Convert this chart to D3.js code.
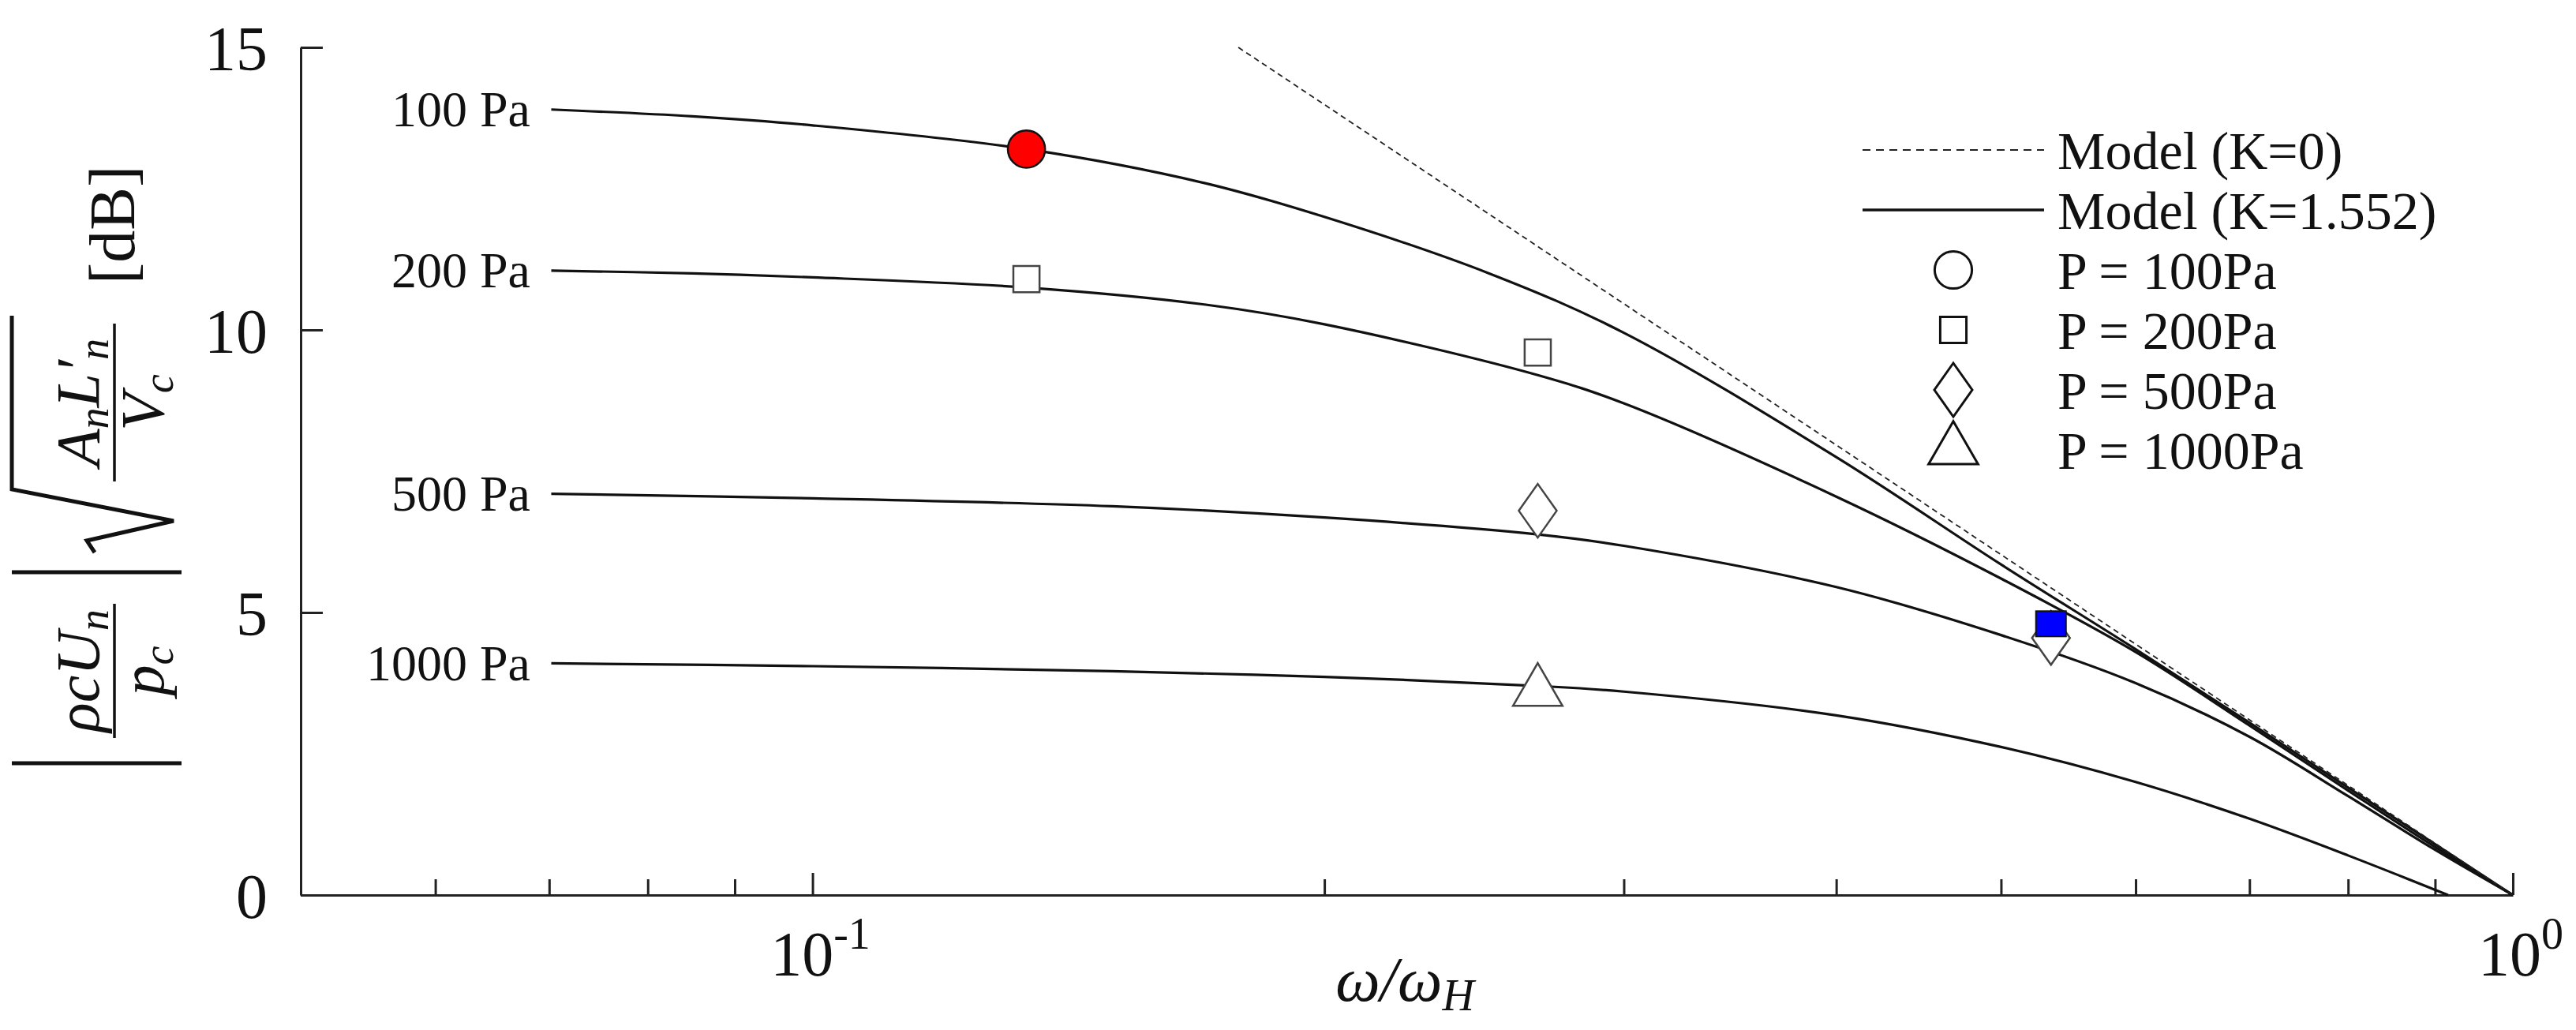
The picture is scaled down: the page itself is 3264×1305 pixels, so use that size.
<!DOCTYPE html>
<html><head><meta charset="utf-8">
<script src="https://cdn.jsdelivr.net/npm/d3@7/dist/d3.min.js"></script>
<style>body{margin:0;background:#fff}svg{display:block}text{font-family:"Liberation Serif","DejaVu Serif",serif;fill:#111}</style>
</head><body><svg id="chart" width="3264" height="1305"></svg>
<script>
// model curves
const xs100 = [0.0702, 0.085, 0.1, 0.1336, 0.17, 0.2, 0.25, 0.3, 0.4, 0.5, 0.6, 0.7, 0.8, 0.9, 1.0];
const ys100 = [13.9, 13.78, 13.62, 13.2, 12.6, 12.0, 11.0, 9.95, 7.75, 5.85, 4.35, 3.05, 1.9, 0.9, 0];
const xs200 = [0.0702, 0.085, 0.1, 0.1336, 0.17, 0.2, 0.267, 0.3, 0.4, 0.5, 0.6, 0.7, 0.8, 0.9, 1.0];
const ys200 = [11.05, 11.0, 10.93, 10.75, 10.45, 10.1, 9.2, 8.7, 7.05, 5.6, 4.3, 3.0, 1.85, 0.85, 0];
const xs500 = [0.0702, 0.1, 0.15, 0.2, 0.267, 0.3, 0.4, 0.5, 0.6, 0.7, 0.8, 0.9, 1.0];
const ys500 = [7.1, 7.02, 6.88, 6.68, 6.38, 6.18, 5.45, 4.6, 3.75, 2.8, 1.75, 0.8, 0];
const xs1000 = [0.0702, 0.1, 0.15, 0.2, 0.267, 0.3, 0.4, 0.5, 0.6, 0.7, 0.8, 0.916];
const ys1000 = [4.1, 4.05, 3.96, 3.86, 3.7, 3.6, 3.18, 2.62, 2.0, 1.35, 0.7, 0];
const xsK0 = [0.178, 1.0];
const ysK0 = [15, 0];
const curveLabels = ['100 Pa', '200 Pa', '500 Pa', '1000 Pa'];

// measured points
const circlePts = [[0.1336, 13.2]];
const squarePts = [[0.1336, 10.9], [0.267, 9.6]];
const diamondPts = [[0.267, 6.8], [0.535, 4.55]];
const trianglePts = [[0.267, 3.6]];
const bluePts = [[0.535, 4.8]];

const yTicks = [0, 5, 10, 15];
const legendItems = ['Model (K=0)', 'Model (K=1.552)', 'P = 100Pa', 'P = 200Pa', 'P = 500Pa', 'P = 1000Pa'];

const svg = d3.select('#chart');
const x = d3.scaleLog().domain([0.05, 1]).range([381, 3184]);
const y = d3.scaleLinear().domain([0, 15]).range([1134, 60]);
const C = '#222';

// axes (ticks inward, no box)
const ax = svg.append('g').attr('transform', 'translate(0,1134)')
  .call(d3.axisBottom(x).tickValues([0.06,0.07,0.08,0.09,0.1,0.2,0.3,0.4,0.5,0.6,0.7,0.8,0.9,1]).tickSizeInner(-20).tickSizeOuter(0).tickFormat(''));
const ay = svg.append('g').attr('transform', 'translate(381,0)')
  .call(d3.axisLeft(y).tickValues(yTicks).tickSizeInner(-28).tickSizeOuter(0).tickPadding(42).tickFormat(d3.format('d')));
[ax, ay].forEach(g => { g.select('.domain').attr('stroke', C).attr('stroke-width', 3); g.selectAll('line').attr('stroke', C).attr('stroke-width', 3); });
ay.selectAll('text').attr('font-size', 80).attr('font-family', '"Liberation Serif",serif').attr('fill', C).attr('dy', '0.35em');
ax.selectAll('.tick').filter(d => d === 0.1 || d === 1).select('line').attr('y2', -28);

// decade labels
[[0.1, '-1'], [1, '0']].forEach(([v, e]) => {
  const t = svg.append('text').attr('x', x(v) + 10).attr('y', 1236).attr('text-anchor', 'middle').attr('font-size', 80);
  t.append('tspan').text('10');
  t.append('tspan').attr('dy', -34).attr('font-size', 56).text(e);
});
const xl = svg.append('text').attr('x', 1780).attr('y', 1268).attr('text-anchor', 'middle').attr('font-size', 80).attr('font-style', 'italic');
xl.append('tspan').text('ω/ω');
xl.append('tspan').attr('font-size', 56).attr('dy', 12).text('H');

const line = d3.line().x(d => x(d[0])).y(d => y(d[1])).curve(d3.curveCatmullRom.alpha(0.5));
const series = [[xs100, ys100], [xs200, ys200], [xs500, ys500], [xs1000, ys1000]];
series.forEach(([xa, ya], i) => {
  const pts = xa.map((v, j) => [v, ya[j]]);
  svg.append('path').attr('d', line(pts)).attr('fill', 'none').attr('stroke', '#111').attr('stroke-width', 3.2);
  svg.append('text').attr('x', 672).attr('y', y(ya[0])).attr('dy', '0.33em').attr('text-anchor', 'end').attr('font-size', 64).text(curveLabels[i]);
});
svg.append('path').attr('d', d3.line().x(d => x(d[0])).y(d => y(d[1]))(xsK0.map((v, j) => [v, ysK0[j]])))
  .attr('fill', 'none').attr('stroke', '#222').attr('stroke-width', 1.8).attr('stroke-dasharray', '7,5');

// markers
const diamondPath = 'M0,-34L24,0L0,34L-24,0Z';
const mk = {
  circle: d3.symbol(d3.symbolCircle, 1750),
  square: d3.symbol(d3.symbolSquare, 1100),
  diamond: () => diamondPath,
  triangle: d3.symbol(d3.symbolTriangle, 1700)
};
function drawPts(pts, shape, fill) {
  svg.append('g').selectAll('path').data(pts).join('path')
    .attr('transform', d => `translate(${x(d[0])},${y(d[1])})`)
    .attr('d', mk[shape]).attr('fill', fill).attr('stroke', fill === '#fff' ? '#444' : '#111').attr('stroke-width', 2.5);
}
drawPts(squarePts, 'square', '#fff');
drawPts(diamondPts, 'diamond', '#fff');
drawPts(trianglePts, 'triangle', '#fff');
drawPts(circlePts, 'circle', '#f00');
svg.append('g').selectAll('rect').data(bluePts).join('rect')
  .attr('x', d => x(d[0]) - 19).attr('y', d => y(d[1]) - 16).attr('width', 38).attr('height', 32)
  .attr('fill', '#0000ff').attr('stroke', '#111').attr('stroke-width', 2);

// legend
const lg = svg.append('g');
const rowY = [190, 266, 342, 418, 494, 570];
legendItems.forEach((t, i) => {
  lg.append('text').attr('x', 2607).attr('y', rowY[i]).attr('dy', '0.35em').attr('font-size', 68).text(t);
});
lg.append('line').attr('x1', 2360).attr('x2', 2590).attr('y1', rowY[0]).attr('y2', rowY[0]).attr('stroke', '#222').attr('stroke-width', 2).attr('stroke-dasharray', '10,7');
lg.append('line').attr('x1', 2360).attr('x2', 2590).attr('y1', rowY[1]).attr('y2', rowY[1]).attr('stroke', '#111').attr('stroke-width', 3.5);
['circle', 'square', 'diamond', 'triangle'].forEach((s, i) => {
  lg.append('path').attr('transform', `translate(2475,${rowY[i + 2]})`).attr('d', mk[s]).attr('fill', '#fff').attr('stroke', '#111').attr('stroke-width', 3);
});

// y label (rotated math)
const yl = svg.append('g').attr('transform', 'translate(125,575) rotate(-90)');
const fs = 78;
yl.append('line').attr('x1', -392).attr('x2', -392).attr('y1', -110).attr('y2', 105).attr('stroke', '#111').attr('stroke-width', 5);
yl.append('line').attr('x1', -150).attr('x2', -150).attr('y1', -110).attr('y2', 105).attr('stroke', '#111').attr('stroke-width', 5);
yl.append('line').attr('x1', -360).attr('x2', -190).attr('y1', 20).attr('y2', 20).attr('stroke', '#111').attr('stroke-width', 3.5);
const n1 = yl.append('text').attr('x', -275).attr('y', 0).attr('text-anchor', 'middle').attr('font-size', fs).attr('font-style', 'italic');
n1.append('tspan').text('ρcU'); n1.append('tspan').attr('font-size', 54).attr('dy', 12).text('n');
const d1 = yl.append('text').attr('x', -275).attr('y', 82).attr('text-anchor', 'middle').attr('font-size', fs).attr('font-style', 'italic');
d1.append('tspan').text('p'); d1.append('tspan').attr('font-size', 54).attr('dy', 12).text('c');
yl.append('path').attr('d', 'M-125,-5 L-110,-15 L-85,95 L-45,-110 L175,-110').attr('fill', 'none').attr('stroke', '#111').attr('stroke-width', 5);
yl.append('line').attr('x1', -35).attr('x2', 165).attr('y1', 20).attr('y2', 20).attr('stroke', '#111').attr('stroke-width', 3.5);
const n2 = yl.append('text').attr('x', 65).attr('y', 0).attr('text-anchor', 'middle').attr('font-size', fs).attr('font-style', 'italic');
n2.append('tspan').text('A'); n2.append('tspan').attr('font-size', 54).attr('dy', 12).text('n');
n2.append('tspan').attr('dy', -12).text('L′'); n2.append('tspan').attr('font-size', 54).attr('dy', 12).text('n');
const d2 = yl.append('text').attr('x', 65).attr('y', 82).attr('text-anchor', 'middle').attr('font-size', fs).attr('font-style', 'italic');
d2.append('tspan').text('V'); d2.append('tspan').attr('font-size', 54).attr('dy', 12).text('c');
yl.append('text').attr('x', 215).attr('y', 45).attr('font-size', 82).text('[dB]');
</script></body></html>
